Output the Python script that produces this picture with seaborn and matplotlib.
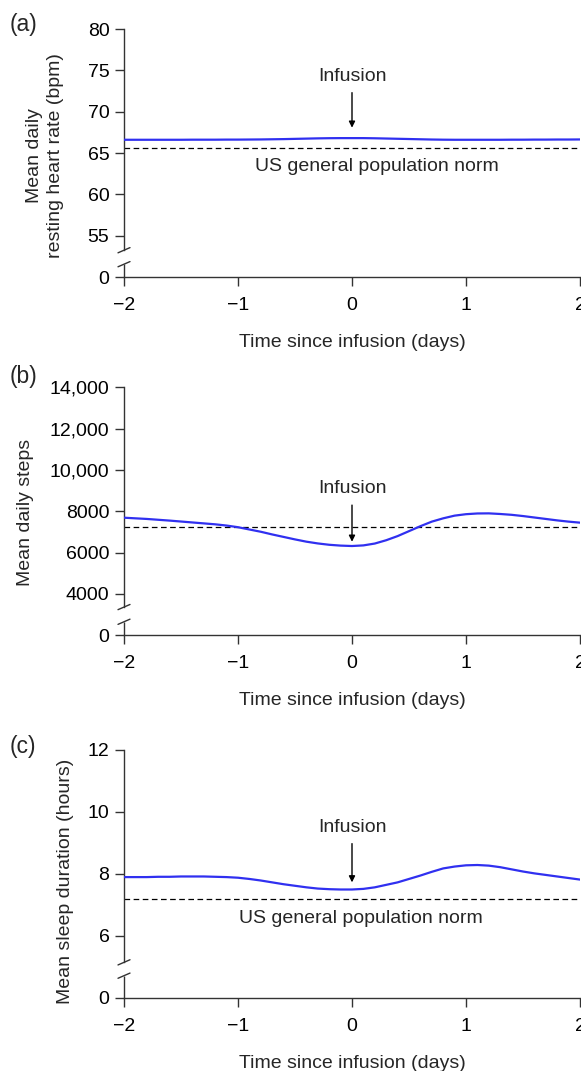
import numpy as np
import pandas as pd
import matplotlib
matplotlib.use("Agg")
import matplotlib.pyplot as plt
import seaborn as sns

# ---------------- data ----------------
days = [-2.0, -1.9, -1.8, -1.7, -1.6, -1.5, -1.4, -1.3, -1.2, -1.1, -1.0,
        -0.9, -0.8, -0.7, -0.6, -0.5, -0.4, -0.3, -0.2, -0.1, 0.0,
        0.1, 0.2, 0.3, 0.4, 0.5, 0.6, 0.7, 0.8, 0.9, 1.0,
        1.1, 1.2, 1.3, 1.4, 1.5, 1.6, 1.7, 1.8, 1.9, 2.0]
heart_rate = [66.60, 66.60, 66.60, 66.60, 66.60, 66.60, 66.61, 66.61, 66.61, 66.62, 66.62,
              66.63, 66.64, 66.66, 66.68, 66.71, 66.74, 66.77, 66.79, 66.80, 66.80,
              66.80, 66.78, 66.75, 66.72, 66.69, 66.66, 66.63, 66.61, 66.60, 66.60,
              66.60, 66.60, 66.60, 66.61, 66.61, 66.62, 66.62, 66.63, 66.63, 66.64]
steps = [7690, 7660, 7630, 7590, 7550, 7505, 7460, 7415, 7370, 7310, 7230,
         7120, 7010, 6880, 6760, 6640, 6530, 6445, 6380, 6340, 6320,
         6350, 6440, 6600, 6800, 7040, 7280, 7500, 7660, 7790, 7860,
         7895, 7900, 7870, 7830, 7770, 7700, 7630, 7560, 7500, 7450]
sleep = [7.90, 7.90, 7.90, 7.91, 7.91, 7.92, 7.92, 7.92, 7.91, 7.90, 7.88,
         7.84, 7.79, 7.73, 7.67, 7.62, 7.57, 7.53, 7.51, 7.50, 7.50,
         7.52, 7.57, 7.65, 7.73, 7.84, 7.95, 8.07, 8.18, 8.24, 8.28,
         8.29, 8.27, 8.22, 8.15, 8.08, 8.02, 7.97, 7.92, 7.87, 7.82]

hr_norm = 65.6
steps_norm = 7250
sleep_norm = 7.2

x_ticks = [-2, -1, 0, 1, 2]
x_ticklabels = ["\u22122", "\u22121", "0", "1", "2"]

hr_ticks = [50, 55, 60, 65, 70, 75, 80]
hr_ticklabels = ["0", "55", "60", "65", "70", "75", "80"]
steps_ticks = [2000, 4000, 6000, 8000, 10000, 12000, 14000]
steps_ticklabels = ["0", "4000", "6000", "8000", "10,000", "12,000", "14,000"]
sleep_ticks = [4, 6, 8, 10, 12]
sleep_ticklabels = ["0", "6", "8", "10", "12"]

panel_letters = ["(a)", "(b)", "(c)"]
y_labels = ["Mean daily\nresting heart rate (bpm)", "Mean daily steps",
            "Mean sleep duration (hours)"]
x_label = "Time since infusion (days)"
norm_label = "US general population norm"
infusion_label = "Infusion"

# ---------------- style ----------------
sns.set_theme(style="ticks")
plt.rcParams["font.family"] = ["Liberation Sans", "DejaVu Sans"]
FS = 14
LINE_COLOR = "#3030F0"
AX_COLOR = "#333333"

W, H = 581, 1071
fig = plt.figure(figsize=(W / 100, H / 100), dpi=100)

left = 124 / W
width = 456 / W
ax_h = 248 / H
bottoms_px = [277, 635.3, 998]

panels = [
    dict(y=heart_rate, norm=hr_norm, ticks=hr_ticks, tl=hr_ticklabels,
         ylim=(50, 80), gap=(53.24, 51.55), ylab_x=-0.173, ylab_y=0.49,
         inf_text=74.2, inf_tail=72.3, inf_tip=68.06, norm_text=(0.22, 63.35)),
    dict(y=steps, norm=steps_norm, ticks=steps_ticks, tl=steps_ticklabels,
         ylim=(2000, 14000), gap=(3366, 2655), ylab_x=-0.217, ylab_y=0.497,
         inf_text=9126, inf_tail=8300, inf_tip=6527, norm_text=None),
    dict(y=sleep, norm=sleep_norm, ticks=sleep_ticks, tl=sleep_ticklabels,
         ylim=(4, 12), gap=(5.15, 4.72), ylab_x=-0.129, ylab_y=0.47,
         inf_text=9.49, inf_tail=8.98, inf_tip=7.73, norm_text=(0.08, 6.58)),
]

for i, p in enumerate(panels):
    b = 1 - bottoms_px[i] / H
    ax = fig.add_axes([left, b, width, ax_h])
    df = pd.DataFrame({"day": days, "value": p["y"]})
    sns.lineplot(data=df, x="day", y="value", ax=ax, color=LINE_COLOR,
                 linewidth=1.6, zorder=3)
    ax.axhline(p["norm"], color="black", linewidth=0.9,
               linestyle=(0, (4.5, 2.8)), zorder=2)

    ax.set_xlim(-2, 2)
    ax.set_ylim(*p["ylim"])
    ax.set_xticks(x_ticks)
    ax.set_xticklabels(x_ticklabels)
    ax.set_yticks(p["ticks"])
    ax.set_yticklabels(p["tl"])
    ax.tick_params(axis="both", labelsize=FS, length=6.5, width=1.0,
                   color=AX_COLOR, labelcolor="black", direction="out")
    ax.tick_params(axis="x", pad=8)
    ax.tick_params(axis="y", pad=4)

    for s in ["top", "right"]:
        ax.spines[s].set_visible(False)
    for s in ["left", "bottom"]:
        ax.spines[s].set_color(AX_COLOR)
        ax.spines[s].set_linewidth(1.0)

    # broken y axis
    y0, y1 = p["ylim"]
    g_top, g_bot = p["gap"]
    ax.spines["left"].set_bounds(g_top, y1)
    fb = (g_bot - y0) / (y1 - y0)
    ft = (g_top - y0) / (y1 - y0)
    ax.plot([0, 0], [0, fb], transform=ax.transAxes, color=AX_COLOR,
            linewidth=1.0, clip_on=False, solid_capstyle="butt")
    dx, dy = 6 / 456, 2.6 / 248
    for f in (fb, ft):
        ax.plot([-dx, dx], [f - dy, f + dy], transform=ax.transAxes,
                color=AX_COLOR, linewidth=1.0, clip_on=False)

    # labels
    ax.set_xlabel(x_label, fontsize=FS)
    ax.xaxis.label.set_verticalalignment("center")
    ax.xaxis.set_label_coords(0.5, -0.263)
    ax.set_ylabel(y_labels[i], fontsize=FS, linespacing=1.3)
    ax.yaxis.label.set_verticalalignment("center")
    ax.yaxis.label.set_horizontalalignment("center")
    ax.yaxis.set_label_coords(p["ylab_x"], p["ylab_y"])

    # annotations
    ax.annotate("", xy=(0, p["inf_tip"]), xytext=(0, p["inf_tail"]),
                arrowprops=dict(arrowstyle="-|>", color="black", lw=1.0,
                                mutation_scale=9, shrinkA=0, shrinkB=0))
    ax.text(0, p["inf_text"], infusion_label, ha="center", va="center",
            fontsize=FS)
    if p["norm_text"] is not None:
        ax.text(p["norm_text"][0], p["norm_text"][1], norm_label,
                ha="center", va="center", fontsize=FS)

    fig.text(10 / W, 1 - [25, 376, 746][i] / H, panel_letters[i],
             ha="left", va="center", fontsize=16.5)

fig.savefig("out.png", dpi=100)
